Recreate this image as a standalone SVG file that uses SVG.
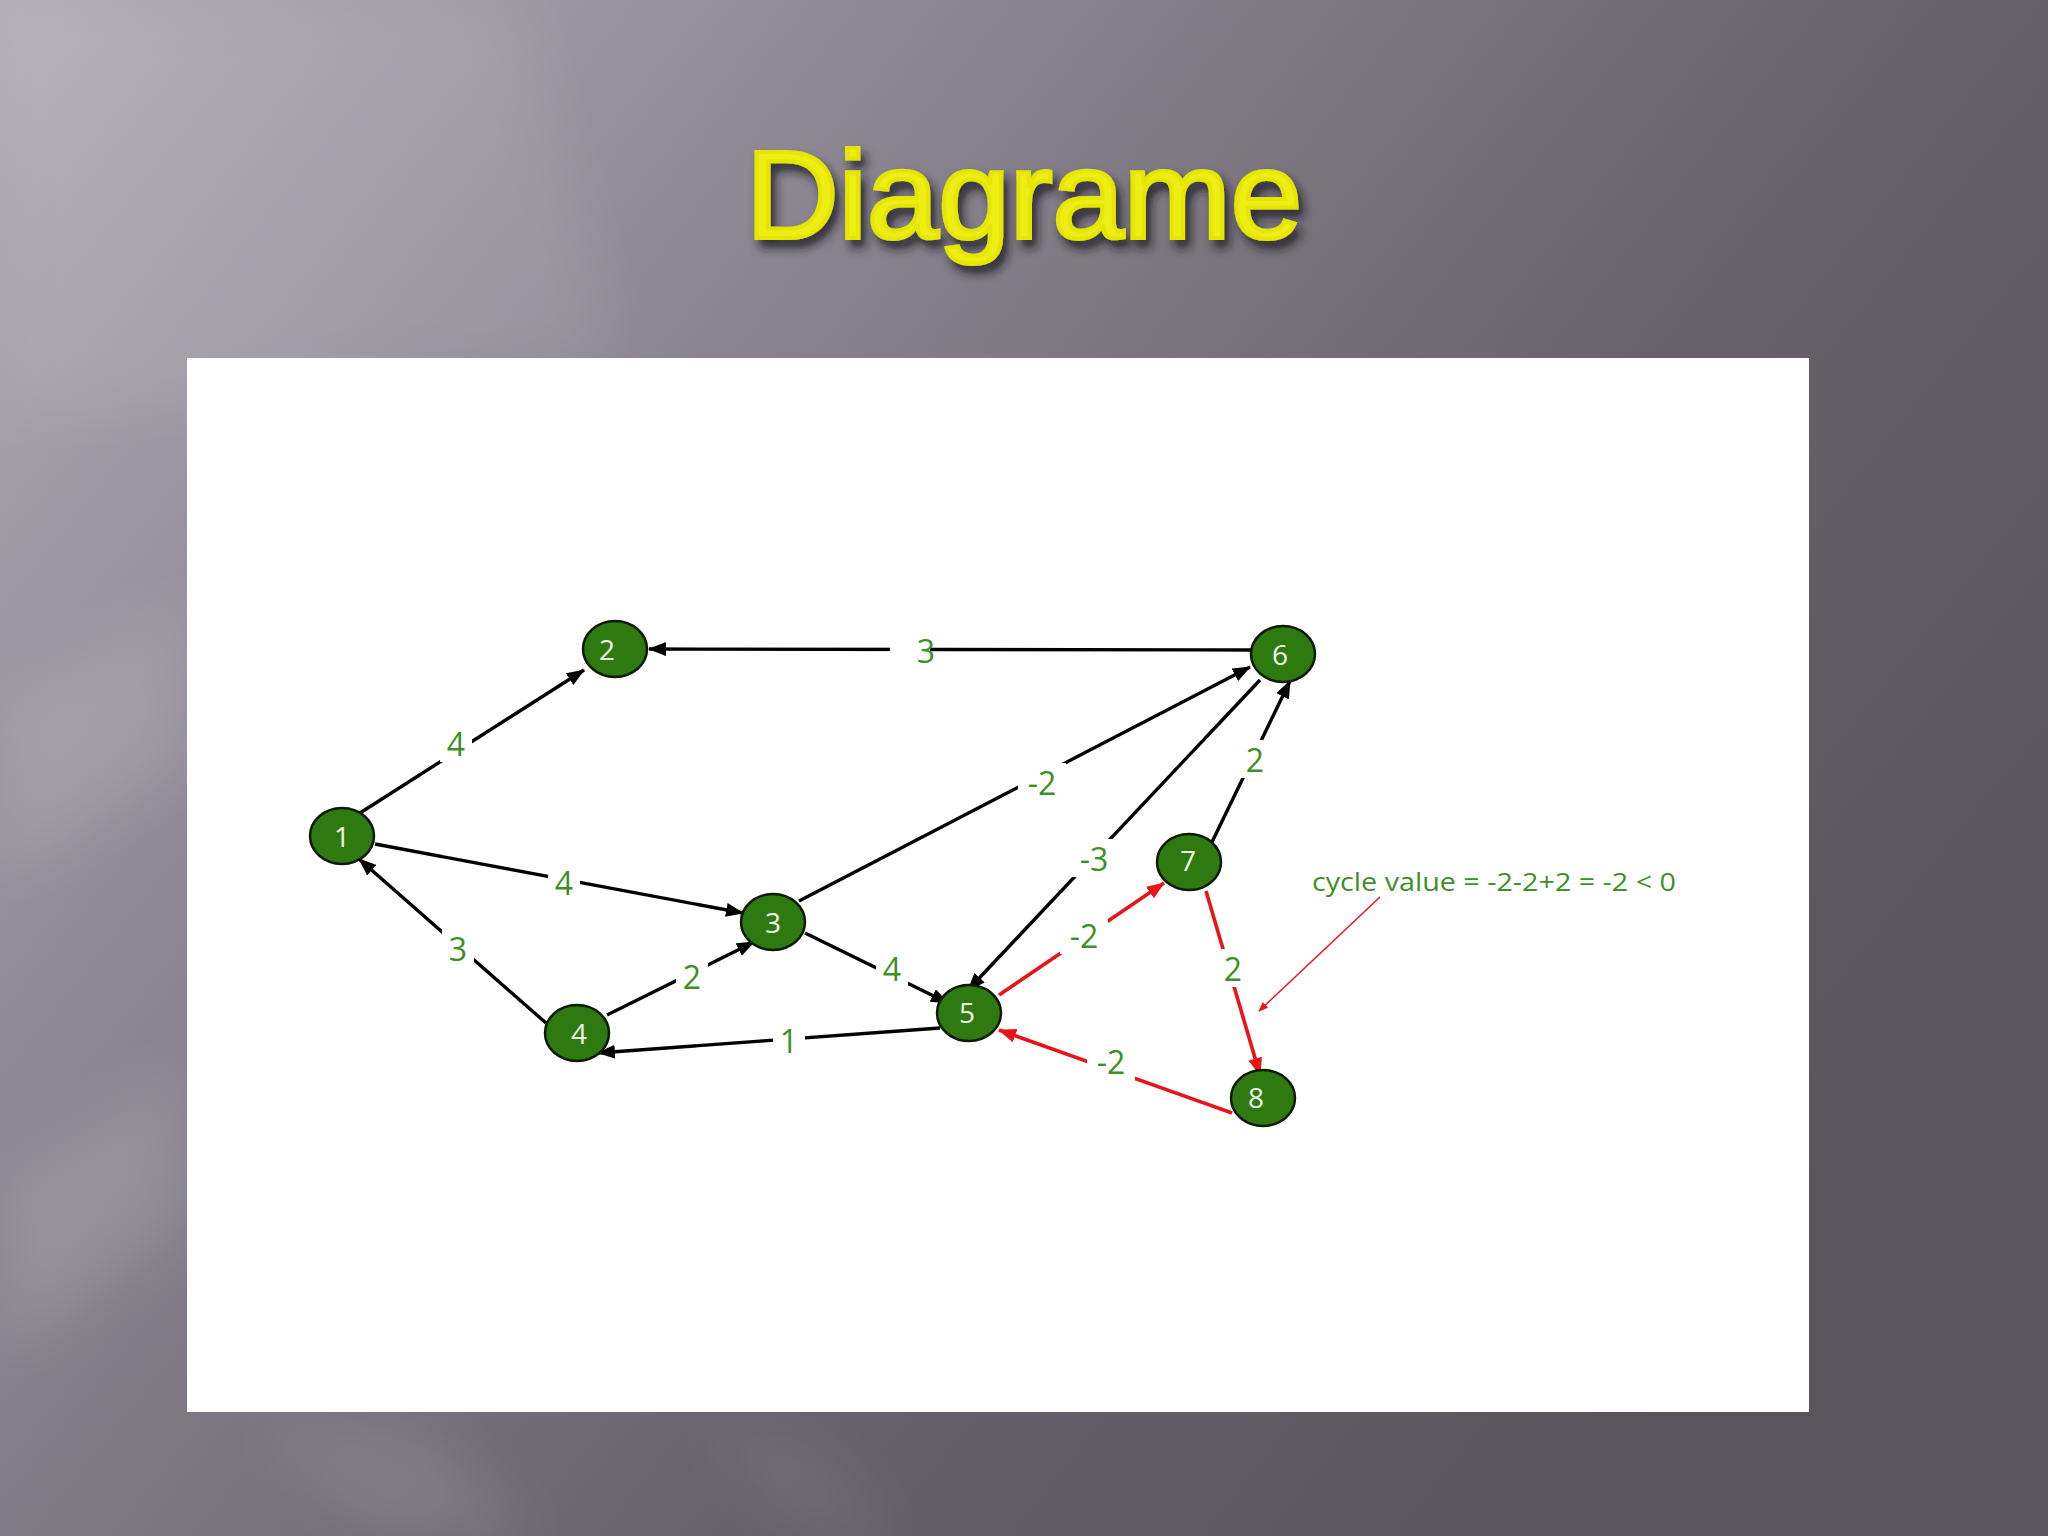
<svg xmlns="http://www.w3.org/2000/svg" width="2048" height="1536" viewBox="0 0 2048 1536">
<defs>
<linearGradient id="bg" x1="0" y1="0" x2="1" y2="0.6">
<stop offset="0" stop-color="#b1adb7"/>
<stop offset="0.35" stop-color="#8a8590"/>
<stop offset="0.7" stop-color="#67616b"/>
<stop offset="1" stop-color="#5a545d"/>
</linearGradient>
<filter id="soft" x="-20%" y="-20%" width="140%" height="140%">
<feGaussianBlur stdDeviation="30"/>
</filter>
<filter id="shadow" x="-10%" y="-30%" width="120%" height="160%">
<feDropShadow dx="5" dy="8" stdDeviation="5" flood-color="#1c1a20" flood-opacity="0.8"/>
</filter>
<marker id="ab" viewBox="0 0 18 14" refX="17" refY="7" markerWidth="18" markerHeight="14" markerUnits="userSpaceOnUse" orient="auto">
<path d="M0,0 L18,7 L0,14 z" fill="#000"/>
</marker>
<marker id="ar" viewBox="0 0 18 14" refX="17" refY="7" markerWidth="18" markerHeight="14" markerUnits="userSpaceOnUse" orient="auto">
<path d="M0,0 L18,7 L0,14 z" fill="#e8141a"/>
</marker>
<marker id="at" viewBox="0 0 10 8" refX="9" refY="4" markerWidth="10" markerHeight="8" markerUnits="userSpaceOnUse" orient="auto">
<path d="M0,0 L10,4 L0,8 z" fill="#e8141a"/>
</marker>
</defs>
<style>
.node ellipse{fill:#2f7a10;stroke:#0c1a06;stroke-width:2.5}
.node text{font-family:"Open Sans","Liberation Sans",sans-serif;font-size:28px;fill:#eef6e6;text-anchor:middle;dominant-baseline:central}
.e{fill:none;stroke:#000;stroke-width:3.4;marker-end:url(#ab)}
.r{fill:none;stroke:#e8141a;stroke-width:3.6;marker-end:url(#ar)}
.lbl rect{fill:#fff}
.lbl text{font-family:"Open Sans","Liberation Sans",sans-serif;font-size:32px;fill:#3f8f28;text-anchor:middle;dominant-baseline:central}
</style>
<rect x="0" y="0" width="2048" height="1536" fill="url(#bg)"/>
<g id="background-streaks" filter="url(#soft)">
<polygon points="0,0 520,0 620,360 0,420" fill="#ffffff" opacity="0.08"/>
<polygon points="0,700 187,600 187,760 0,880" fill="#ffffff" opacity="0.12"/>
<polygon points="0,1180 187,1060 187,1220 0,1360" fill="#ffffff" opacity="0.12"/>
<polygon points="260,1430 420,1430 540,1536 380,1536" fill="#ffffff" opacity="0.1"/>
<polygon points="700,1430 800,1430 900,1536 800,1536" fill="#ffffff" opacity="0.07"/>
</g>
<text id="title" x="1024" y="238" font-family="Liberation Sans, Arial, sans-serif" font-size="124" fill="#eeee12" stroke="#e6e600" stroke-width="4" text-anchor="middle" textLength="556" lengthAdjust="spacingAndGlyphs" filter="url(#shadow)">Diagrame</text>
<rect id="panel" x="187" y="358" width="1622" height="1054" fill="#ffffff"/>
<g id="connectors">
<line class="e" x1="360" y1="813" x2="584" y2="670"/>
<line class="e" x1="1251" y1="650" x2="649" y2="649"/>
<line class="e" x1="375" y1="844" x2="743" y2="913"/>
<line class="e" x1="546" y1="1023" x2="359" y2="859"/>
<line class="e" x1="607" y1="1015" x2="754" y2="942"/>
<line class="e" x1="805" y1="933" x2="948" y2="1003"/>
<line class="e" x1="799" y1="901" x2="1250" y2="667"/>
<line class="e" x1="1260" y1="680" x2="968" y2="990"/>
<line class="e" x1="1212" y1="842" x2="1290" y2="681"/>
<line class="e" x1="940" y1="1028" x2="598" y2="1053"/>
<line class="r" x1="999" y1="995" x2="1164" y2="883"/>
<line class="r" x1="1206" y1="891" x2="1260" y2="1075"/>
<line class="r" x1="1232" y1="1113" x2="999" y2="1030"/>
<line x1="1380" y1="897" x2="1259" y2="1011" stroke="#e8141a" stroke-width="1.5" marker-end="url(#at)"/>
<g class="lbl">
<rect x="440" y="724" width="32" height="38"/><text x="456" y="743">4</text>
<rect x="890" y="631" width="40" height="38"/><text x="926" y="650">3</text>
<rect x="548" y="863" width="32" height="38"/><text x="564" y="882">4</text>
<rect x="442" y="929" width="32" height="38"/><text x="458" y="948">3</text>
<rect x="676" y="957" width="32" height="38"/><text x="692" y="976">2</text>
<rect x="876" y="949" width="32" height="38"/><text x="892" y="968">4</text>
<rect x="1018" y="763" width="48" height="38"/><text x="1042" y="782">-2</text>
<rect x="1070" y="839" width="48" height="38"/><text x="1094" y="858">-3</text>
<rect x="1239" y="740" width="32" height="38"/><text x="1255" y="759">2</text>
<rect x="773" y="1021" width="32" height="38"/><text x="789" y="1040">1</text>
<rect x="1060" y="916" width="48" height="38"/><text x="1084" y="935">-2</text>
<rect x="1217" y="949" width="32" height="38"/><text x="1233" y="968">2</text>
<rect x="1087" y="1042" width="48" height="38"/><text x="1111" y="1061">-2</text>
</g>
</g>
<g id="node-1" class="node"><ellipse cx="342" cy="836" rx="32" ry="28"/><text x="342" y="836">1</text></g>
<g id="node-2" class="node"><ellipse cx="615" cy="649" rx="32" ry="28"/><text x="607" y="649">2</text></g>
<g id="node-3" class="node"><ellipse cx="773" cy="922" rx="32" ry="28"/><text x="773" y="922">3</text></g>
<g id="node-4" class="node"><ellipse cx="577" cy="1033" rx="32" ry="28"/><text x="579" y="1033">4</text></g>
<g id="node-5" class="node"><ellipse cx="969" cy="1013" rx="32" ry="28"/><text x="967" y="1012">5</text></g>
<g id="node-6" class="node"><ellipse cx="1283" cy="654" rx="32" ry="28"/><text x="1280" y="654">6</text></g>
<g id="node-7" class="node"><ellipse cx="1189" cy="862" rx="32" ry="28"/><text x="1188" y="860">7</text></g>
<g id="node-8" class="node"><ellipse cx="1263" cy="1098" rx="32" ry="28"/><text x="1256" y="1097">8</text></g>
<text id="annotation" x="1312" y="891" font-family="Open Sans, Liberation Sans, sans-serif" font-size="25" fill="#3f8f28" textLength="364" lengthAdjust="spacingAndGlyphs">cycle value = -2-2+2 = -2 &lt; 0</text>
</svg>
